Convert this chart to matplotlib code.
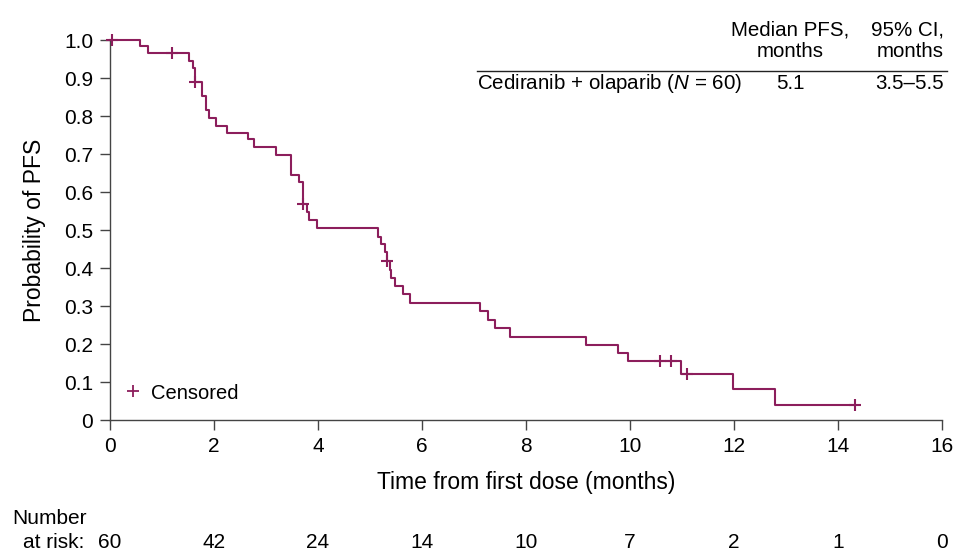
import numpy as np
import matplotlib
matplotlib.use("Agg")
import matplotlib.pyplot as plt
from matplotlib.lines import Line2D
from matplotlib.transforms import blended_transform_factory

plt.rcParams['font.family'] = ['Liberation Sans', 'DejaVu Sans']
plt.rcParams['mathtext.fontset'] = 'custom'
plt.rcParams['mathtext.it'] = 'Liberation Sans:italic'
plt.rcParams['mathtext.rm'] = 'Liberation Sans'

# Kaplan-Meier steps (time in months, survival probability after the event)
km_time = [0, 0.58, 0.74, 1.52, 1.59, 1.64, 1.77, 1.85, 1.91, 2.04, 2.25, 2.65,
           2.77, 3.19, 3.49, 3.63, 3.71, 3.78, 3.83, 3.99, 5.16, 5.22, 5.28,
           5.33, 5.38, 5.41, 5.49, 5.64, 5.77, 7.12, 7.27, 7.41, 7.70, 9.15,
           9.77, 9.96, 10.98, 11.99, 12.79, 14.32]
km_surv = [1.0, 0.983, 0.966, 0.945, 0.927, 0.890, 0.853, 0.816, 0.796, 0.774,
           0.754, 0.739, 0.719, 0.698, 0.645, 0.626, 0.568, 0.548, 0.526, 0.504,
           0.482, 0.463, 0.441, 0.419, 0.395, 0.374, 0.353, 0.331, 0.309, 0.287,
           0.264, 0.242, 0.219, 0.197, 0.177, 0.155, 0.121, 0.082, 0.039, 0.039]

censor_time = [0.03, 1.19, 1.64, 3.71, 5.33, 10.57, 10.79, 11.10, 14.32]

risk_time = [0, 2, 4, 6, 8, 10, 12, 14, 16]
risk_n = [60, 42, 24, 14, 10, 7, 2, 1, 0]

color = '#8c1e5c'
axis_color = '#444444'

W, H = 956, 554
fig = plt.figure(figsize=(W / 100, H / 100), dpi=100)
ax = fig.add_axes([110 / W, 1 - 420 / H, 832 / W, 380 / H])

ax.step(km_time, km_surv, where='post', color=color, lw=1.5, clip_on=False, zorder=3)

# censor marks sit on the curve
idx = np.searchsorted(km_time, censor_time, side='right') - 1
censor_surv = np.array(km_surv)[idx]
ax.plot(censor_time, censor_surv, '+', color=color, ms=9, mew=1.5, clip_on=False, zorder=4)

ax.set_xlim(0, 16)
ax.set_ylim(0, 1.0)
ax.set_xticks(risk_time)
yt = np.round(np.arange(0, 1.01, 0.1), 1)
ax.set_yticks(yt)
ax.set_yticklabels(['0'] + [f'{v:.1f}' for v in yt[1:]])

for s in ['top', 'right']:
    ax.spines[s].set_visible(False)
for s in ['left', 'bottom']:
    ax.spines[s].set_color(axis_color)
    ax.spines[s].set_linewidth(1.0)
ax.tick_params(direction='out', length=7, width=1.0, color=axis_color,
               labelsize=15, pad=5)

ax.set_xlabel('Time from first dose (months)', fontsize=16.5, labelpad=11)
ax.set_ylabel('Probability of PFS', fontsize=16.5, labelpad=13)

handle = Line2D([], [], ls='none', marker='+', color=color, ms=9, mew=1.3)
ax.legend([handle], ['Censored'], loc='center left', bbox_to_anchor=(0.015, 0.071),
          frameon=False, fontsize=14.5, handlelength=1.0, handletextpad=0.4,
          borderpad=0, borderaxespad=0)

# summary table in the top right
def fx(px):
    return px / W

def fy(py):
    return 1 - py / H

fig.text(fx(790), fy(41), 'Median PFS,\nmonths', ha='center', va='center',
         multialignment='center', fontsize=14.8, linespacing=1.15)
fig.text(fx(944), fy(41), '95% CI,\nmonths', ha='right', va='center',
         multialignment='right', fontsize=14.8, linespacing=1.15)
fig.add_artist(Line2D([fx(477), fx(947)], [fy(70.7), fy(70.7)], color='#222222', lw=1.0))
fig.text(fx(477), fy(84), 'Cediranib + olaparib ($\\mathit{N}$ = 60)', ha='left',
         va='center', fontsize=14.8)
fig.text(fx(790), fy(84), '5.1', ha='center', va='center', fontsize=14.8)
fig.text(fx(944), fy(84), '3.5\u20135.5', ha='right', va='center', fontsize=14.8)

# number at risk
tr = blended_transform_factory(ax.transData, fig.transFigure)
fig.text(fx(12), fy(519), 'Number', ha='left', va='center', fontsize=15)
fig.text(fx(23), fy(543), 'at risk:', ha='left', va='center', fontsize=15)
for t, n in zip(risk_time, risk_n):
    ax.text(t, fy(543), str(n), transform=tr, ha='center', va='center',
            fontsize=15, clip_on=False)

fig.savefig('out.png', dpi=100)
